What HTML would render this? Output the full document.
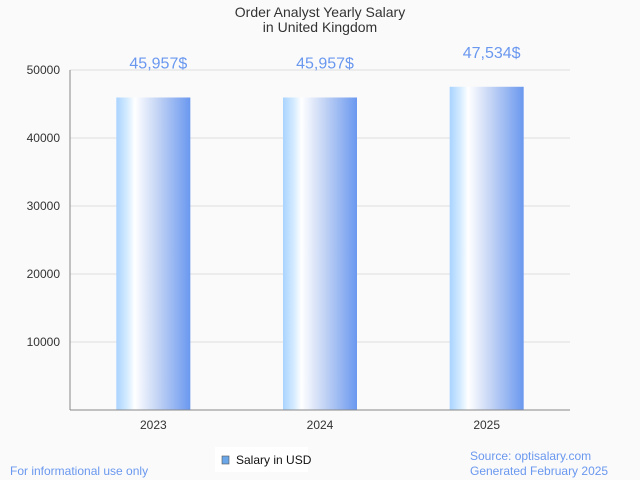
<!DOCTYPE html>
<html><head><meta charset="utf-8"><style>
body{margin:0;background:#fafafa;font-family:"Liberation Sans",sans-serif}
svg{display:block}
</style></head><body>
<svg width="640" height="480">
<defs>
<linearGradient id="g" x1="0" x2="1" y1="0" y2="0">
<stop offset="0" stop-color="#a9d3ff"/><stop offset="0.15" stop-color="#d6ecff"/><stop offset="0.25" stop-color="#ffffff"/><stop offset="0.55" stop-color="#c5d5f5"/><stop offset="1" stop-color="#6a98ef"/>
</linearGradient>
</defs>
<rect width="640" height="480" fill="#fafafa"/>
<text x="320" y="17" text-anchor="middle" font-size="14" fill="#333">Order Analyst Yearly Salary</text>
<text x="320" y="32" text-anchor="middle" font-size="14" fill="#333">in United Kingdom</text>
<g id="grid"></g>
<g id="bars"></g>
<line x1="70" y1="70" x2="70" y2="410" stroke="#888"/>
<line x1="70" y1="410" x2="570" y2="410" stroke="#888"/>
<rect x="215" y="447" width="93" height="25" fill="#fff"/>
<rect x="222" y="456" width="7" height="8" fill="#6aa6e8" stroke="#555" stroke-width="0.6"/>
<text x="236" y="464" font-size="12" fill="#111">Salary in USD</text>
<text x="10" y="475" font-size="12" fill="#6a98ef">For informational use only</text>
<text x="470" y="460" font-size="12" fill="#6a98ef">Source: optisalary.com</text>
<text x="470" y="475" font-size="12" fill="#6a98ef">Generated February 2025</text>
</svg>
<script>
const categories=["2023","2024","2025"];
const salaries=[45957,45957,47534];
const yTicks=[10000,20000,30000,40000,50000];
const NS="http://www.w3.org/2000/svg";
const x0=70,x1=570,yb=410,yt=70,ymax=50000;
const y=v=>yb-(v/ymax)*(yb-yt);
const bw=(x1-x0)/categories.length;
const xc=i=>x0+bw*(i+0.5);
function mk(t,a,p){const e=document.createElementNS(NS,t);for(const k in a)e.setAttribute(k,a[k]);p.appendChild(e);return e;}
const grid=document.getElementById('grid'),bars=document.getElementById('bars');
yTicks.forEach(v=>{
 const l=mk('line',{x1:x0,x2:x1,y1:y(v),y2:y(v),stroke:'#ddd'},grid);
 
 
 const t=mk('text',{x:x0-10,y:y(v)+4,'text-anchor':'end','font-size':12,fill:'#333'},grid);
 t.textContent=v;
 
 
});
categories.forEach((c,i)=>{
 const r=mk('rect',{x:xc(i)-37,y:y(salaries[i]),width:74,height:yb-y(salaries[i]),fill:'url(#g)'},bars);
 
 
 const v=mk('text',{x:xc(i)+5,y:y(salaries[i])-29,'text-anchor':'middle','font-size':16,fill:'#6a98ef'},bars);
 v.textContent=salaries[i].toLocaleString('en-US')+'$';
 
 
 const t=mk('text',{x:xc(i),y:429,'text-anchor':'middle','font-size':12,fill:'#333'},bars);
 t.textContent=c;
 
 
});
</script>
</body></html>
